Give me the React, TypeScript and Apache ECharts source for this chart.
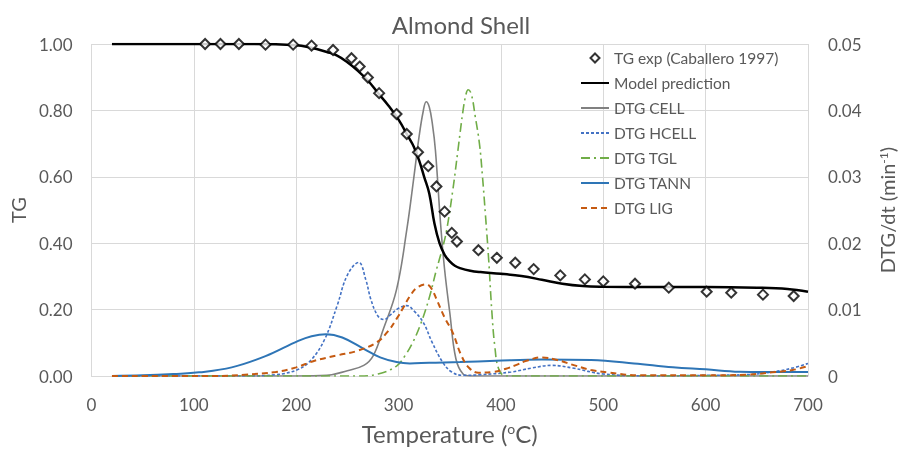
import React, { useEffect, useRef } from 'react';
import * as echarts from 'echarts';

// X-axis ticks
const xTicks = [0, 100, 200, 300, 400, 500, 600, 700];

// Experimental TG (Caballero 1997)
const expT = [111, 126, 144, 170, 197, 215, 236, 254, 262, 270, 281, 298, 308, 319, 329, 337, 345, 352, 357, 378, 396, 414, 432, 458, 482, 500, 531, 564, 601, 625, 656, 686];
const expTG = [1.0, 1.0, 1.0, 0.998, 0.998, 0.995, 0.982, 0.957, 0.932, 0.899, 0.852, 0.789, 0.729, 0.674, 0.632, 0.571, 0.495, 0.431, 0.405, 0.379, 0.356, 0.341, 0.322, 0.303, 0.291, 0.285, 0.278, 0.266, 0.254, 0.251, 0.245, 0.241];

// Model prediction
const modelT = [20, 100, 150, 180, 200, 210, 220, 230, 240, 250, 260, 270, 280, 290, 300, 310, 315, 320, 325, 330, 335, 340, 345, 350, 355, 360, 370, 380, 400, 420, 440, 460, 480, 500, 550, 600, 650, 680, 700];
const modelTG = [1.0, 1.0, 1.0, 0.999, 0.996, 0.992, 0.985, 0.976, 0.965, 0.945, 0.92, 0.89, 0.852, 0.815, 0.772, 0.718, 0.69, 0.65, 0.6, 0.55, 0.46, 0.4, 0.365, 0.345, 0.332, 0.325, 0.317, 0.313, 0.308, 0.301, 0.29, 0.278, 0.271, 0.269, 0.268, 0.268, 0.266, 0.262, 0.254];

// DTG CELL
const cellT = [20, 200, 230, 250, 266, 275, 285, 298, 308, 315, 320, 324, 327, 330, 333, 336, 341, 345, 350, 356, 363, 370, 700];
const cellV = [0, 0, 0.0001, 0.0008, 0.0016, 0.003, 0.007, 0.013, 0.022, 0.03, 0.036, 0.0398, 0.0413, 0.0405, 0.038, 0.034, 0.023, 0.016, 0.0096, 0.0026, 0.0003, 0, 0];

// DTG HCELL
const hcellT = [20, 150, 180, 202, 215, 228, 240, 250, 261, 268, 273, 280, 286, 292, 300, 308, 315, 324, 333, 343, 352, 363, 380, 410, 430, 450, 470, 500, 550, 600, 640, 665, 685, 700];
const hcellV = [0, 0, 0.0002, 0.001, 0.0025, 0.0056, 0.0106, 0.0152, 0.0171, 0.0145, 0.0115, 0.009, 0.0085, 0.0092, 0.0102, 0.0106, 0.0098, 0.0081, 0.005, 0.0021, 0.0006, 0.0001, 0.0002, 0.0006, 0.0012, 0.0016, 0.0012, 0.0003, 0, 0.0001, 0.0002, 0.0006, 0.0012, 0.0019];

// DTG TGL
const tglT = [20, 260, 280, 298, 306, 314, 322, 330, 337, 343, 347, 353, 358, 363, 366, 368, 371, 375, 379, 382, 385, 388, 391, 394, 398, 405, 700];
const tglV = [0, 0, 0.0003, 0.0015, 0.003, 0.0051, 0.008, 0.0118, 0.016, 0.0193, 0.022, 0.028, 0.034, 0.04, 0.0425, 0.0431, 0.0425, 0.039, 0.035, 0.03, 0.024, 0.0176, 0.01, 0.0045, 0.001, 0, 0];

// DTG TANN
const tannT = [20, 50, 80, 105, 137, 170, 202, 215, 229, 245, 266, 282, 298, 311, 330, 360, 395, 440, 488, 530, 568, 600, 633, 670, 700];
const tannV = [0, 0.0001, 0.0003, 0.00055, 0.0013, 0.003, 0.0053, 0.006, 0.0063, 0.0058, 0.0041, 0.0028, 0.0021, 0.0019, 0.002, 0.0021, 0.0023, 0.0025, 0.0024, 0.0019, 0.0013, 0.001, 0.00065, 0.0006, 0.0006];

// DTG LIG
const ligT = [20, 120, 150, 180, 200, 218, 240, 260, 279, 290, 298, 305, 311, 318, 327, 332, 337, 345, 353, 361, 369, 378, 392, 405, 414, 425, 440, 455, 472, 488, 504, 536, 600, 640, 665, 685, 700];
const ligV = [0, 0, 0.0002, 0.0006, 0.0013, 0.0023, 0.0031, 0.0038, 0.0051, 0.0068, 0.0086, 0.0104, 0.012, 0.0133, 0.0138, 0.0132, 0.0116, 0.0088, 0.0065, 0.0032, 0.0012, 0.0005, 0.0006, 0.0011, 0.0016, 0.0023, 0.0028, 0.0024, 0.0016, 0.0009, 0.00055, 0.0001, 0.0001, 0.0002, 0.00055, 0.0009, 0.0015];

const zip = (a: number[], b: number[]) => a.map((x, i) => [x, b[i]]);

export default function App() {
  const ref = useRef<HTMLDivElement>(null);
  useEffect(() => {
    const chart = echarts.init(ref.current!, null, { renderer: 'svg' });
    const font = 'Lato';
    const txt = '#595959';
    const gridC = '#d9d9d9';
    const lineBase = {
      type: 'line',
      yAxisIndex: 1,
      symbol: 'none',
      showSymbol: false,
      smooth: 0.4,
    };
    const hide = { opacity: 0 };
    chart.setOption({
      animation: false,
      textStyle: { fontFamily: font },
      grid: { left: 89.5, right: 87, top: 44, bottom: 73.5, containLabel: false },
      graphic: [
        {
          type: 'text',
          x: 461,
          y: 24,
          style: { text: 'Almond Shell', fill: txt, fontFamily: font, fontSize: 24, align: 'center', verticalAlign: 'middle' },
        },
      ],
      legend: {
        orient: 'vertical',
        left: 575,
        top: 45,
        itemWidth: 28,
        itemHeight: 9,
        itemGap: 9,
        textStyle: { fontFamily: font, fontSize: 15.5, color: txt, lineHeight: 16 },
        data: [
          { name: 'TG exp (Caballero 1997)', icon: 'path://M5,0L10,5L5,10L0,5Z' },
          { name: 'Model prediction', itemStyle: hide },
          { name: 'DTG CELL', itemStyle: hide },
          { name: 'DTG HCELL', itemStyle: hide },
          { name: 'DTG TGL', itemStyle: hide },
          { name: 'DTG TANN', itemStyle: hide },
          { name: 'DTG LIG', itemStyle: hide },
        ],
      },
      xAxis: {
        type: 'value',
        min: xTicks[0],
        max: xTicks[xTicks.length - 1],
        interval: 100,
        axisLine: { show: true, lineStyle: { color: gridC, width: 1 } },
        axisTick: { show: false },
        axisLabel: { color: txt, fontSize: 17, fontFamily: font, margin: 20 },
        splitLine: { show: true, lineStyle: { color: gridC, width: 1 } },
        name: 'Temperature ({sup|o}C)',
        nameLocation: 'middle',
        nameGap: 45,
        nameTextStyle: {
          color: txt,
          fontSize: 24,
          fontFamily: font,
          rich: { sup: { fontSize: 14, color: txt, fontFamily: font, verticalAlign: 'top' } },
        },
      },
      yAxis: [
        {
          type: 'value',
          min: 0,
          max: 1,
          interval: 0.2,
          axisLine: { show: false },
          axisTick: { show: false },
          axisLabel: { color: txt, fontSize: 17, fontFamily: font, margin: 19, formatter: (v: number) => v.toFixed(2) },
          splitLine: { show: true, lineStyle: { color: gridC, width: 1 } },
          name: 'TG',
          nameLocation: 'middle',
          nameGap: 60,
          nameTextStyle: { color: txt, fontSize: 20, fontFamily: font },
        },
        {
          type: 'value',
          min: 0,
          max: 0.05,
          interval: 0.01,
          position: 'right',
          axisLine: { show: false },
          axisTick: { show: false },
          axisLabel: { color: txt, fontSize: 17, fontFamily: font, margin: 20, formatter: (v: number) => (v === 0 ? '0' : v.toFixed(2)) },
          splitLine: { show: false },
          name: 'DTG/dt (min{sup|-1})',
          nameLocation: 'middle',
          nameGap: 69,
          nameTextStyle: {
            color: txt,
            fontSize: 20,
            fontFamily: font,
            rich: { sup: { fontSize: 12, color: txt, fontFamily: font, verticalAlign: 'top' } },
          },
        },
      ],
      series: [
        {
          ...lineBase,
          name: 'Model prediction',
          yAxisIndex: 0,
          data: zip(modelT, modelTG),
          lineStyle: { color: '#000000', width: 2.5 },
          itemStyle: { color: '#000000' },
          z: 4,
        },
        {
          ...lineBase,
          name: 'DTG CELL',
          data: zip(cellT, cellV),
          lineStyle: { color: '#808080', width: 1.6 },
          itemStyle: { color: '#808080' },
        },
        {
          ...lineBase,
          name: 'DTG HCELL',
          data: zip(hcellT, hcellV),
          lineStyle: { color: '#4472c4', width: 1.6, type: [3, 2] },
          itemStyle: { color: '#4472c4' },
        },
        {
          ...lineBase,
          name: 'DTG TGL',
          data: zip(tglT, tglV),
          lineStyle: { color: '#70ad47', width: 1.6, type: [9, 4, 2, 4] },
          itemStyle: { color: '#70ad47' },
        },
        {
          ...lineBase,
          name: 'DTG TANN',
          data: zip(tannT, tannV),
          lineStyle: { color: '#2e75b6', width: 2 },
          itemStyle: { color: '#2e75b6' },
        },
        {
          ...lineBase,
          name: 'DTG LIG',
          data: zip(ligT, ligV),
          lineStyle: { color: '#c55a11', width: 2, type: [6, 4] },
          itemStyle: { color: '#c55a11' },
        },
        {
          name: 'TG exp (Caballero 1997)',
          type: 'scatter',
          yAxisIndex: 0,
          data: zip(expT, expTG),
          symbol: 'diamond',
          symbolSize: 10,
          itemStyle: { color: '#ffffff', borderColor: '#000000', borderWidth: 2 },
          z: 6,
        },
      ],
    });
    return () => chart.dispose();
  }, []);
  return <div ref={ref} style={{ position: 'fixed', left: 0, top: 0, width: 905, height: 450 }} />;
}
